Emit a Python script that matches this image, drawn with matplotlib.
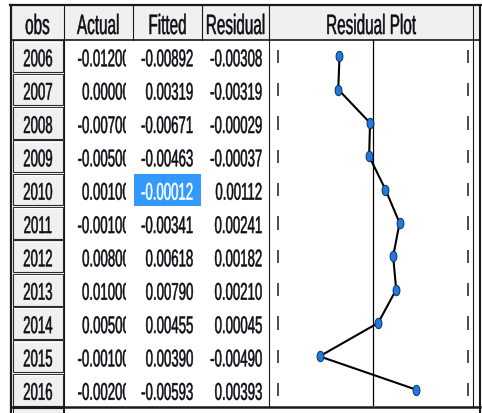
import numpy as np
import matplotlib
matplotlib.use("Agg")
import matplotlib.pyplot as plt
from matplotlib import font_manager as fm
from matplotlib.patches import Rectangle
from matplotlib.patheffects import AbstractPathEffect
from matplotlib.transforms import Affine2D, Bbox, TransformedBbox
from matplotlib.path import Path

# ---- table contents -------------------------------------------------------
years = [2006, 2007, 2008, 2009, 2010, 2011, 2012, 2013, 2014, 2015, 2016]
actual = [-0.01200, 0.00000, -0.00700, -0.00500, 0.00100, -0.00100,
          0.00800, 0.01000, 0.00500, -0.00100, -0.00200]
fitted = [-0.00892, 0.00319, -0.00671, -0.00463, -0.00012, -0.00341,
          0.00618, 0.00790, 0.00455, 0.00390, -0.00593]
residual = [-0.00308, -0.00319, -0.00029, -0.00037, 0.00112, 0.00241,
            0.00182, 0.00210, 0.00045, -0.00490, 0.00393]
headers = ["obs", "Actual", "Fitted", "Residual", "Residual Plot"]
plot_bound = 0.0087      # dashed guide marks either side of zero
selected_row = 4         # highlighted "Fitted" cell (2010)

# ---- fonts ----------------------------------------------------------------
def installed(name):
    try:
        fm.findfont(fm.FontProperties(family=name), fallback_to_default=False)
        return True
    except ValueError:
        return False

if installed("Liberation Sans Narrow"):
    FAMILY, WF = "Liberation Sans Narrow", 1.0
else:
    FAMILY, WF = "Liberation Sans", 0.82
BODY_PT = 11.6 * WF
HEAD_PT = 13.4 * WF
SY = 1.5 / WF


class VStretch(AbstractPathEffect):
    """Draw glyphs stretched vertically about their baseline, lightly emboldened."""

    def __init__(self, sy, stroke=0.35):
        super().__init__()
        self.sy = sy
        self.stroke = stroke

    def draw_path(self, renderer, gc, tpath, affine, rgbFace=None):
        gc0 = renderer.new_gc()
        gc0.copy_properties(gc)
        gc0.set_linewidth(self.stroke)
        if rgbFace is not None:
            gc0.set_foreground(rgbFace)
        gc0.set_joinstyle("round")
        renderer.draw_path(gc0, tpath, Affine2D().scale(1.0, self.sy) + affine,
                           rgbFace)
        gc0.restore()


TXT = "#0e0e14"
GRID = "#1a1a1a"
BTN = "#f0f0f0"

W, H = 482, 413
fig = plt.figure(figsize=(W / 100, H / 100), dpi=100)
fig.patch.set_facecolor("white")
ax = fig.add_axes([0, 0, 1, 1])
ax.set_xlim(0, W)
ax.set_ylim(H, 0)
ax.axis("off")

# ---- grid geometry (pixels) -----------------------------------------------
col_edges = [11, 63.5, 133, 202, 269, 473, 480]
top, head_bot = 4.5, 39.5
row_h = 33.35
n = len(years)
body_bot = head_bot + n * row_h

# header band
ax.add_patch(Rectangle((11, top), 469, head_bot - top, fc=BTN, ec="none", zorder=0))

# obs buttons
for i in range(n):
    rt = head_bot + i * row_h
    ax.add_patch(Rectangle((12.5, rt + 0.8), 50.5, row_h - 1.6, fc=BTN,
                           ec="#2a2a2a", lw=0.8, zorder=1))
    ax.plot([13.5, 62], [rt + 2.0, rt + 2.0], color="white", lw=0.8, zorder=2)
ax.add_patch(Rectangle((12.5, body_bot + 2), 50.5, 20, fc=BTN, ec="#2a2a2a",
                       lw=0.8, zorder=1))

# selected cell
sel_top = head_bot + selected_row * row_h
ax.add_patch(Rectangle((133.5, sel_top + 1.2), 67.5, row_h - 1.6,
                       fc="#3399ff", ec="none", zorder=1))

# ruling
lw1 = 0.8
ax.plot([10, 481], [top, top], color=GRID, lw=1.6, zorder=3)
ax.plot([11, 11], [top, H], color=GRID, lw=1.6, zorder=3)
ax.plot([480, 480], [top, H], color=GRID, lw=1.5, zorder=3)
ax.plot([11, 480], [head_bot, head_bot], color=GRID, lw=1.2, zorder=3)
ax.plot([11, 480], [body_bot + 0.5, body_bot + 0.5], color=GRID, lw=1.8, zorder=3)
ax.plot([63.5, 63.5], [top, H], color=GRID, lw=lw1, zorder=3)
for x in (133, 202):
    ax.plot([x, x], [top, head_bot], color=GRID, lw=lw1, zorder=3)
for x in (269, 473):
    ax.plot([x, x], [top, body_bot], color=GRID, lw=lw1, zorder=3)

# header labels
for k, h in enumerate(headers):
    cx = (col_edges[k] + col_edges[k + 1]) / 2
    ax.text(cx, 34.0, h, ha="center", va="baseline", fontsize=HEAD_PT,
            family=FAMILY, color=TXT, path_effects=[VStretch(SY)], zorder=4)

# body values
clip_actual = TransformedBbox(Bbox([[64, 0], [126, H]]), ax.transData)
for i in range(n):
    base = head_bot + i * row_h + 26.8
    kw = dict(va="baseline", fontsize=BODY_PT, family=FAMILY,
              path_effects=[VStretch(SY)], zorder=4)
    ax.text(38, base, str(years[i]), ha="center", color=TXT, **kw)
    t = ax.text(130, base, f"{actual[i]:.5f}", ha="right", color=TXT, **kw)
    t.set_clip_box(clip_actual)
    t.set_clip_on(True)
    ax.text(193.5, base, f"{fitted[i]:.5f}", ha="right",
            color="white" if i == selected_row else TXT, **kw)
    ax.text(262.5, base, f"{residual[i]:.5f}", ha="right", color=TXT, **kw)

# ---- residual plot column ---------------------------------------------------
left_px, right_px, zero_px, px_per_unit = 269, 473, 373.2, 10950
pax = fig.add_axes([left_px / W, 1 - body_bot / H, (right_px - left_px) / W,
                    (body_bot - head_bot) / H])
pax.set_xlim(-(zero_px - left_px) / px_per_unit, (right_px - zero_px) / px_per_unit)
pax.set_ylim(n - 0.5, -0.5)
pax.axis("off")
pax.patch.set_alpha(0)

rows = np.arange(n)
pax.axvline(0, color="black", lw=0.9)
pax.vlines(np.full(n, -plot_bound), rows - 0.2, rows + 0.2, color="#4d4d4d", lw=1.4)
pax.vlines(np.full(n, plot_bound), rows - 0.2, rows + 0.2, color="#4d4d4d", lw=1.4)

theta = np.linspace(0, 2 * np.pi, 40)
oval = Path(np.column_stack([0.33 * np.cos(theta), 0.5 * np.sin(theta)]))
pax.plot(residual, rows, color="black", lw=1.5, marker=oval, ms=7.5,
         mfc="#2279dc", mec="#0f2f60", mew=0.7)

fig.savefig("out.png", dpi=100)
